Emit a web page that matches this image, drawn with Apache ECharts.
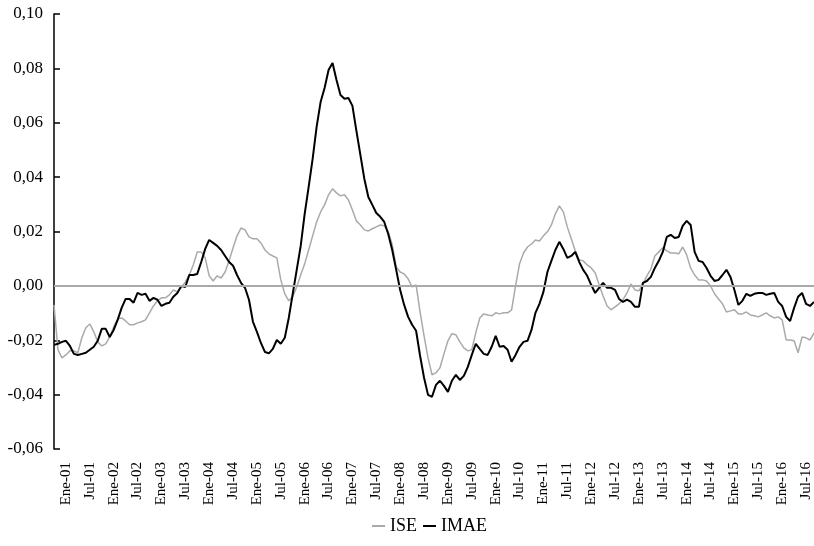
<!DOCTYPE html>
<html>
<head>
<meta charset="utf-8">
<script src="https://cdn.jsdelivr.net/npm/echarts@6/dist/echarts.min.js"></script>
<style>html,body{margin:0;padding:0;background:#fff}#c{width:814px;height:546px}</style>
</head>
<body>
<div id="c"></div>
<script>
// Monthly categories: Oct-2000 .. Sep-2016
var monthNames = ['Ene','Feb','Mar','Abr','May','Jun','Jul','Ago','Sep','Oct','Nov','Dic'];
var categories = [];
for (var y = 2000; y <= 2016; y++) {
  for (var m = 0; m < 12; m++) {
    if (y === 2000 && m < 9) continue;
    if (y === 2016 && m > 8) continue;
    categories.push(monthNames[m] + '-' + String(y % 100).padStart(2, '0'));
  }
}

var ISE = [
 -0.0070,-0.0235,-0.0265,-0.0254,-0.0239,-0.0239,-0.0246,-0.0191,-0.0154,-0.0140,
 -0.0169,-0.0206,-0.0221,-0.0213,-0.0188,-0.0151,-0.0121,-0.0118,-0.0129,-0.0143,
 -0.0143,-0.0136,-0.0132,-0.0125,-0.0099,-0.0074,-0.0055,-0.0044,-0.0044,-0.0033,
 -0.0015,-0.0022,-0.0007,0.0015,0.0040,0.0077,0.0125,0.0125,0.0103,0.0037,
 0.0018,0.0037,0.0029,0.0051,0.0092,0.0140,0.0184,0.0213,0.0206,0.0180,
 0.0173,0.0173,0.0158,0.0132,0.0118,0.0110,0.0103,0.0022,-0.0029,-0.0055,
 -0.0040,-0.0004,0.0040,0.0081,0.0132,0.0184,0.0235,0.0272,0.0298,0.0335,
 0.0357,0.0342,0.0331,0.0335,0.0316,0.0279,0.0239,0.0224,0.0206,0.0202,
 0.0210,0.0217,0.0224,0.0221,0.0199,0.0151,0.0070,0.0051,0.0044,0.0026,
 -0.0004,0.0004,-0.0096,-0.0184,-0.0265,-0.0327,-0.0320,-0.0301,-0.0250,-0.0202,
 -0.0176,-0.0180,-0.0206,-0.0228,-0.0239,-0.0235,-0.0173,-0.0118,-0.0103,-0.0107,
 -0.0110,-0.0099,-0.0103,-0.0099,-0.0099,-0.0088,0.0000,0.0081,0.0121,0.0143,
 0.0154,0.0169,0.0165,0.0184,0.0199,0.0224,0.0265,0.0294,0.0272,0.0217,
 0.0173,0.0129,0.0096,0.0092,0.0077,0.0066,0.0048,0.0004,-0.0037,-0.0074,
 -0.0088,-0.0077,-0.0066,-0.0051,-0.0026,0.0007,-0.0015,-0.0018,0.0007,0.0037,
 0.0062,0.0110,0.0125,0.0140,0.0129,0.0121,0.0121,0.0118,0.0143,0.0114,
 0.0066,0.0040,0.0022,0.0022,0.0018,0.0000,-0.0029,-0.0048,-0.0066,-0.0096,
 -0.0092,-0.0088,-0.0103,-0.0103,-0.0096,-0.0107,-0.0110,-0.0114,-0.0107,-0.0099,
 -0.0110,-0.0118,-0.0114,-0.0125,-0.0199,-0.0199,-0.0202,-0.0246,-0.0188,-0.0191,
 -0.0199,-0.0173
];

var IMAE = [
 -0.0217,-0.0213,-0.0206,-0.0202,-0.0221,-0.0250,-0.0254,-0.0250,-0.0246,-0.0235,
 -0.0224,-0.0202,-0.0158,-0.0158,-0.0188,-0.0162,-0.0125,-0.0081,-0.0048,-0.0048,
 -0.0062,-0.0026,-0.0033,-0.0029,-0.0055,-0.0044,-0.0051,-0.0074,-0.0066,-0.0062,
 -0.0040,-0.0026,0.0000,-0.0004,0.0040,0.0040,0.0044,0.0088,0.0136,0.0169,
 0.0158,0.0147,0.0132,0.0110,0.0088,0.0074,0.0040,0.0011,-0.0007,-0.0051,
 -0.0132,-0.0169,-0.0210,-0.0243,-0.0248,-0.0232,-0.0199,-0.0213,-0.0191,-0.0118,
 -0.0029,0.0059,0.0147,0.0265,0.0364,0.0467,0.0585,0.0676,0.0728,0.0794,
 0.0820,0.0757,0.0702,0.0688,0.0691,0.0662,0.0570,0.0482,0.0393,0.0327,
 0.0298,0.0268,0.0254,0.0235,0.0191,0.0132,0.0059,-0.0015,-0.0070,-0.0114,
 -0.0143,-0.0165,-0.0257,-0.0338,-0.0401,-0.0408,-0.0364,-0.0349,-0.0368,-0.0390,
 -0.0349,-0.0327,-0.0346,-0.0331,-0.0298,-0.0254,-0.0213,-0.0232,-0.0250,-0.0254,
 -0.0224,-0.0184,-0.0224,-0.0221,-0.0235,-0.0279,-0.0254,-0.0224,-0.0206,-0.0202,
 -0.0162,-0.0099,-0.0066,-0.0022,0.0051,0.0092,0.0132,0.0162,0.0136,0.0103,
 0.0110,0.0125,0.0088,0.0059,0.0037,0.0004,-0.0026,-0.0007,0.0011,-0.0007,
 -0.0007,-0.0015,-0.0048,-0.0059,-0.0051,-0.0059,-0.0077,-0.0077,0.0011,0.0018,
 0.0033,0.0066,0.0092,0.0125,0.0180,0.0188,0.0176,0.0180,0.0221,0.0239,
 0.0224,0.0125,0.0092,0.0088,0.0066,0.0037,0.0018,0.0022,0.0040,0.0059,
 0.0033,-0.0015,-0.0070,-0.0055,-0.0029,-0.0037,-0.0029,-0.0026,-0.0026,-0.0033,
 -0.0029,-0.0026,-0.0059,-0.0074,-0.0114,-0.0129,-0.0081,-0.0040,-0.0026,-0.0066,
 -0.0074,-0.0059
];

var yMin = -0.06, yMax = 0.10, yStep = 0.02;
var FONT = '"Liberation Serif", "Times New Roman", serif';

var chart = echarts.init(document.getElementById('c'), null, {renderer: 'canvas'});
chart.setOption({
  animation: false,
  backgroundColor: '#fff',
  grid: {left: 54, right: 0, top: 14, bottom: 97, containLabel: false},
  legend: {
    bottom: 6, left: 367,
    itemWidth: 13, itemHeight: 2, itemGap: 6,
    textStyle: {fontFamily: FONT, fontSize: 18, color: '#000'},
    data: [
      {name: 'ISE', icon: 'rect', itemStyle: {color: '#aaaaaa'}},
      {name: 'IMAE', icon: 'rect', itemStyle: {color: '#000000'}}
    ]
  },
  xAxis: {
    type: 'category',
    data: categories,
    boundaryGap: false,
    axisLine: {lineStyle: {color: '#404040', width: 1.5}},
    axisTick: {show: false},
    splitLine: {show: false},
    axisLabel: {
      rotate: 90,
      margin: 13,
      fontFamily: FONT, fontSize: 15, color: '#000',
      interval: function (idx, val) { return val.indexOf('Ene') === 0 || val.indexOf('Jul') === 0; }
    }
  },
  yAxis: {
    type: 'value',
    min: yMin, max: yMax, interval: yStep,
    axisLine: {show: true, lineStyle: {color: '#000', width: 1.5}},
    axisTick: {show: true, inside: true, length: 6, lineStyle: {color: '#000', width: 1.5}},
    splitLine: {show: false},
    axisLabel: {
      fontFamily: FONT, fontSize: 17, color: '#000', margin: 11,
      formatter: function (v) { return (Math.round(v * 100) / 100).toFixed(2).replace('.', ','); }
    }
  },
  series: [
    {
      name: 'ISE', type: 'line', data: ISE, symbol: 'none', z: 3,
      lineStyle: {color: '#aaaaaa', width: 1.5},
      itemStyle: {color: '#aaaaaa'},
      markLine: {
        silent: true, symbol: 'none', label: {show: false},
        lineStyle: {color: '#aaaaaa', width: 2, type: 'solid'},
        data: [{yAxis: 0}]
      }
    },
    {
      name: 'IMAE', type: 'line', data: IMAE, symbol: 'none', z: 4,
      lineStyle: {color: '#000000', width: 2},
      itemStyle: {color: '#000000'}
    }
  ]
});
</script>
</body>
</html>
